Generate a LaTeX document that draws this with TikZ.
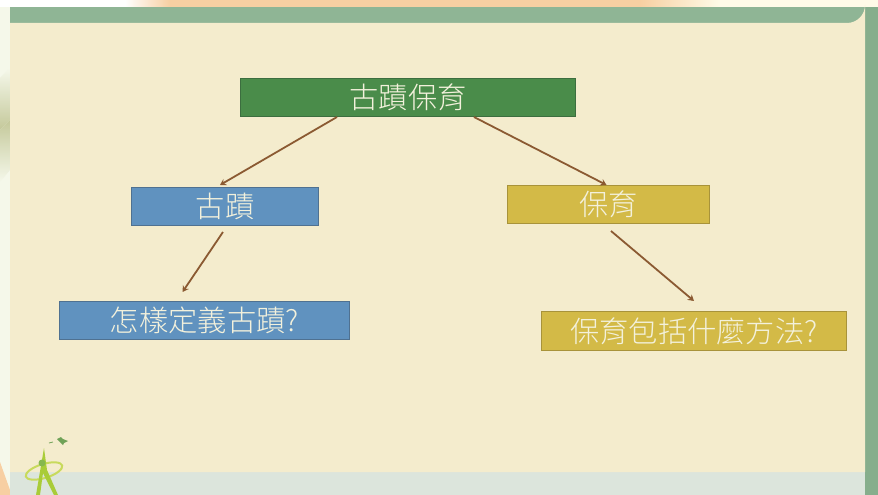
\documentclass[tikz,border=0pt]{standalone}
\usepackage{fontspec}
\usetikzlibrary{arrows.meta}
\setmainfont[UprightFont=* Light]{Noto Sans CJK TC}

\definecolor{pagepale}{HTML}{F5F8EA}
\definecolor{topstrip}{HTML}{F7CFA2}
\definecolor{topcream}{HTML}{FFFBE8}
\definecolor{brushtan}{HTML}{C4C89A}
\definecolor{bandgreen}{HTML}{8FB595}
\definecolor{sidegreen}{HTML}{86AE8C}
\definecolor{panelcream}{HTML}{F4ECCD}
\definecolor{footpale}{HTML}{DCE5DC}
\definecolor{rootfill}{HTML}{4A8C4A}
\definecolor{rootline}{HTML}{3C6E3F}
\definecolor{bluefill}{HTML}{6092BF}
\definecolor{blueline}{HTML}{4F7191}
\definecolor{goldfill}{HTML}{D3BA47}
\definecolor{goldline}{HTML}{A8933A}
\definecolor{linkbrown}{HTML}{8B5A32}
\definecolor{textpale}{HTML}{F3F1DC}
\definecolor{logoring}{HTML}{C8DA5C}
\definecolor{logoleaf}{HTML}{A9CC38}
\definecolor{logodot}{HTML}{86B84E}
\definecolor{logostar}{HTML}{6FA257}

\tikzset{
	topicbox/.style={shape=rectangle, draw, line width=1.4pt, inner sep=0pt, minimum height=37.6pt, text=textpale, font=\fontsize{29.3}{29.3}\selectfont},
	rootbox/.style={topicbox, fill=rootfill, draw=rootline},
	bluebox/.style={topicbox, fill=bluefill, draw=blueline},
	goldbox/.style={topicbox, fill=goldfill, draw=goldline},
	link/.style={draw=linkbrown, line width=1.8pt, -{Stealth[length=6pt,width=7pt]}},
}

\begin{document}
\begin{tikzpicture}[x=1pt,y=-1pt]
	\useasboundingbox (0,0) rectangle (878,495);

	% page behind the slide
	\fill[pagepale] (0,0) rectangle (878,495);
	\fill[white] (0,0) rectangle (130,7);
	\shade[left color=white, right color=topstrip] (125,0) rectangle (170,7);
	\fill[topstrip] (170,0) rectangle (640,7);
	\shade[left color=topstrip, right color=topcream] (640,0) rectangle (720,7);
	\fill[topcream] (720,0) rectangle (878,7);
	\shade[top color=pagepale, bottom color=brushtan] (0,78) -- (10,68) -- (10,120) -- (0,130) -- cycle;
	\shade[top color=brushtan, bottom color=pagepale] (0,130) -- (10,120) -- (10,170) -- (0,182) -- cycle;
	\fill[topstrip] (0,495) -- (0,462) -- (10,490) -- (10,495) -- cycle;

	% slide
	\fill[sidegreen] (10,7) rectangle (878,495);
	\fill[bandgreen] (10,7) rectangle (865,23);
	\fill[footpale] (10,472) rectangle (865,495);
	\fill[panelcream] (10,23) -- (847,23) arc (90:0:18) -- (865,472) -- (10,472) -- cycle;

	% logo
	\draw[line width=2pt, draw=logoring, rotate around={17:(44,471)}] (44,471) ellipse (19 and 7);
	\fill[logoleaf] (44,448) -- (47,470) -- (58,495) -- (54,495) -- (43,473) -- (40,495) -- (36,495) -- cycle;
	\fill[logodot] (42,463) circle (3.5);
	\fill[logostar] (57,439) -- (61,437) -- (63,439) -- (68,441) -- (64,443) -- (63,445) -- (60,442) -- cycle;
	\draw[logostar, line width=0.8pt] (49,443) -- (53,442);

	% topics
	\node[rootbox, minimum width=334.6pt] (root) at (408,97.5) {\raisebox{3pt}{古蹟保育}};
	\node[bluebox, minimum width=186.6pt] (ruin) at (225,206.5) {\raisebox{2pt}{古蹟}};
	\node[goldbox, minimum width=201.6pt] (care) at (608.5,204.5) {\raisebox{3pt}{保育}};
	\node[bluebox, minimum width=289.6pt] (define) at (204.5,320.5) {\raisebox{1pt}{怎樣定義古蹟?}};
	\node[goldbox, minimum width=304.6pt, minimum height=38.6pt] (method) at (694,331) {保育包括什麼方法?};

	\path ([xshift=-71pt]root.south) edge [link] ([xshift=-5pt,yshift=2pt]ruin.north);
	\path ([xshift=66pt]root.south) edge [link] ([xshift=-2pt]care.north);
	\path ([xshift=-2pt,yshift=-6pt]ruin.south) edge [link] ([xshift=-22pt,yshift=9pt]define.north);
	\path ([xshift=2.5pt,yshift=-7pt]care.south) edge [link] ([yshift=10pt]method.north);
\end{tikzpicture}
\end{document}
